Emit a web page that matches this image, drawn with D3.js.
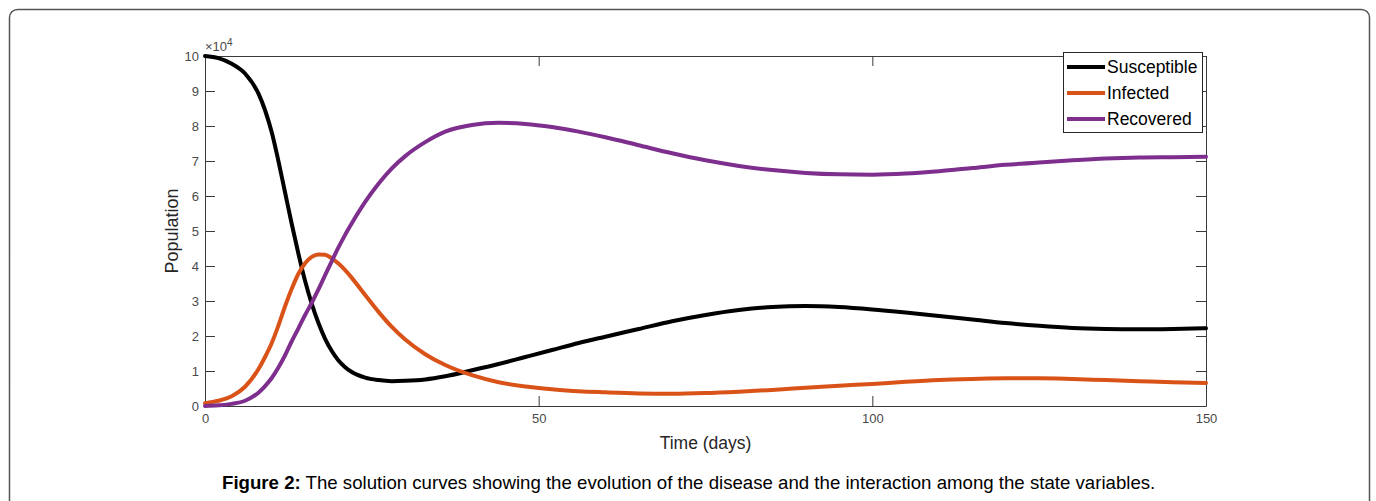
<!DOCTYPE html>
<html>
<head>
<meta charset="utf-8">
<script src="https://cdn.jsdelivr.net/npm/d3@7"></script>
<style>
html,body{margin:0;padding:0;background:#fff;}
svg{display:block;}
text{font-family:"Liberation Sans",Arial,Helvetica,sans-serif;}
</style>
</head>
<body>
<svg id="chart" width="1376" height="501"></svg>
<script>
// ---- data (population in units of 10^4, time in days) ----
const times = [0,2,4,6,8,9,10,11,12,13,14,15,16,17,18,19,20,21,22,24,26,28,30,33,36,40,44,48,52,56,60,65,70,75,80,85,90,95,100,105,110,115,120,125,130,135,140,145,150];
const susceptible = [10.0,9.94,9.78,9.5,8.93,8.45,7.82,7.0,6.1,5.2,4.35,3.57,2.92,2.37,1.92,1.57,1.3,1.11,0.97,0.81,0.74,0.71,0.72,0.76,0.85,1.02,1.2,1.4,1.6,1.8,1.98,2.2,2.42,2.6,2.74,2.83,2.86,2.83,2.76,2.67,2.57,2.47,2.37,2.29,2.23,2.2,2.19,2.2,2.22];
const infected = [0.08,0.15,0.28,0.55,1.05,1.4,1.8,2.3,2.85,3.35,3.78,4.08,4.26,4.33,4.32,4.22,4.07,3.88,3.66,3.17,2.69,2.26,1.9,1.48,1.17,0.88,0.68,0.56,0.48,0.42,0.39,0.36,0.35,0.37,0.41,0.46,0.52,0.58,0.63,0.69,0.74,0.77,0.79,0.79,0.77,0.74,0.71,0.68,0.66];
const recovered = [0.0,0.02,0.06,0.15,0.38,0.57,0.8,1.1,1.45,1.85,2.22,2.6,2.95,3.33,3.74,4.14,4.53,4.89,5.22,5.83,6.35,6.79,7.14,7.54,7.84,8.03,8.09,8.06,7.97,7.84,7.68,7.45,7.22,7.02,6.86,6.74,6.66,6.62,6.61,6.64,6.71,6.8,6.89,6.96,7.02,7.07,7.1,7.11,7.12];
const seriesNames = ["Susceptible","Infected","Recovered"];
const seriesColors = ["#000000","#D95319","#7E2F8E"];
const xTicks = [0,50,100,150];
const yTicks = [0,1,2,3,4,5,6,7,8,9,10];
const xLabel = "Time (days)";
const yLabel = "Population";
const captionBold = "Figure 2:";
const captionRest = " The solution curves showing the evolution of the disease and the interaction among the state variables.";

const svg = d3.select("#chart");

// outer rounded frame
svg.append("rect").attr("x",9.5).attr("y",9.5).attr("width",1360).attr("height",520)
  .attr("rx",8).attr("ry",8).attr("fill","none").attr("stroke","#555").attr("stroke-width",1.5);

const L = 205, R = 1206, T = 56, B = 406;
const x = d3.scaleLinear().domain([0,150]).range([L,R]);
const y = d3.scaleLinear().domain([0,10]).range([B,T]);

const axisColor = "#3a3a3a";
const labelColor = "#4a4a4a";

function styleAxis(g){
  g.selectAll("path,line").attr("stroke",axisColor).attr("stroke-width",1);
  g.selectAll("text").attr("fill",labelColor).style("font-size","13px")
   .style("font-family","'Liberation Sans',Arial,sans-serif");
}

// bottom
svg.append("g").attr("transform",`translate(0,${B})`)
  .call(d3.axisBottom(x).tickValues(xTicks).tickFormat(d3.format("d")).tickSizeInner(-10).tickSizeOuter(0).tickPadding(8))
  .call(styleAxis);
// top
svg.append("g").attr("transform",`translate(0,${T})`)
  .call(d3.axisTop(x).tickValues(xTicks).tickFormat("").tickSizeInner(-10).tickSizeOuter(0))
  .call(styleAxis);
// left
svg.append("g").attr("transform",`translate(${L},0)`)
  .call(d3.axisLeft(y).tickValues(yTicks).tickFormat(d3.format("d")).tickSizeInner(-10).tickSizeOuter(0).tickPadding(6))
  .call(styleAxis);
// right
svg.append("g").attr("transform",`translate(${R},0)`)
  .call(d3.axisRight(y).tickValues(yTicks).tickFormat("").tickSizeInner(-10).tickSizeOuter(0))
  .call(styleAxis);

// exponent label
const ex = svg.append("text").attr("x",L).attr("y",51).attr("fill",labelColor).style("font-size","13px");
ex.append("tspan").text("\u00d710");
ex.append("tspan").attr("dy",-5).style("font-size","10px").text("4");

// lines
const data = [susceptible, infected, recovered];
const line = d3.line().x((d,i)=>x(times[i])).y(d=>y(d)).curve(d3.curveMonotoneX);
data.forEach((s,k)=>{
  svg.append("path").datum(s).attr("d",line).attr("fill","none")
    .attr("stroke",seriesColors[k]).attr("stroke-width",4).attr("stroke-linejoin","round").attr("stroke-linecap","round");
});

// axis labels
svg.append("text").attr("x",(L+R)/2).attr("y",449).attr("text-anchor","middle")
  .attr("fill","#262626").style("font-size","17.5px").text(xLabel);
svg.append("text").attr("transform",`translate(178,${(T+B)/2}) rotate(-90)`).attr("text-anchor","middle")
  .attr("fill","#262626").style("font-size","18px").text(yLabel);

// legend
const lg = svg.append("g");
lg.append("rect").attr("x",1063.5).attr("y",52.5).attr("width",139).attr("height",80)
  .attr("fill","#fff").attr("stroke","#262626").attr("stroke-width",1);
const rowY = [67,93,119];
seriesNames.forEach((n,k)=>{
  lg.append("line").attr("x1",1067).attr("x2",1105).attr("y1",rowY[k]).attr("y2",rowY[k])
    .attr("stroke",seriesColors[k]).attr("stroke-width",4);
  lg.append("text").attr("x",1107).attr("y",rowY[k]).attr("dy","0.35em")
    .attr("fill","#000").style("font-size","17.5px").text(n);
});

// caption
const cap = svg.append("text").attr("x",222).attr("y",489).attr("fill","#000").style("font-size","18.65px");
cap.append("tspan").style("font-weight","bold").text(captionBold);
cap.append("tspan").text(captionRest);
</script>
</body>
</html>
